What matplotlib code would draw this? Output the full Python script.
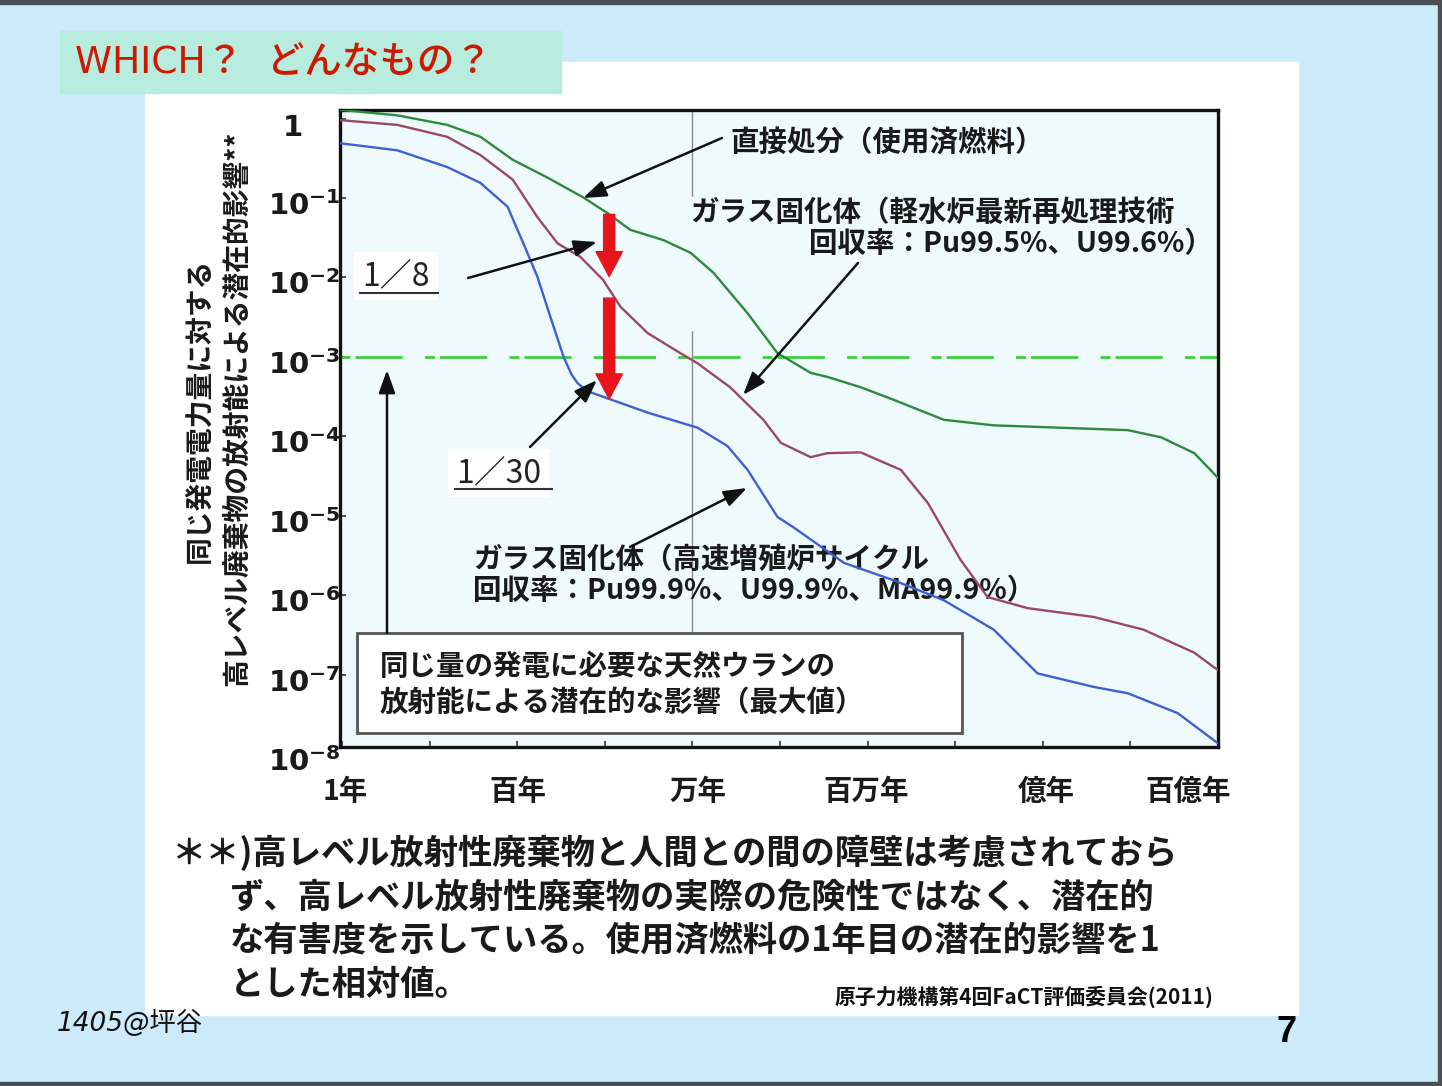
import numpy as np
import matplotlib.pyplot as plt
from matplotlib import transforms
from matplotlib.patches import Rectangle
from matplotlib.lines import Line2D

plt.rcParams['font.family'] = ['Noto Sans CJK JP', 'DejaVu Sans']

# curves: log10(years) and log10(relative potential hazard)
green_logt = [-0.03, 0.63, 1.20, 1.58, 1.95, 2.34, 2.75, 3.03, 3.29, 3.67, 3.98, 4.24, 4.63, 4.97,
              5.35, 5.54, 5.92, 6.30, 6.87, 7.44, 8.21, 8.97, 9.35, 9.73, 10.0]
green_logv = [0.11, 0.04, -0.08, -0.23, -0.52, -0.74, -0.99, -1.19, -1.40, -1.53, -1.69, -1.94, -2.45, -2.95,
              -3.20, -3.25, -3.38, -3.54, -3.79, -3.86, -3.89, -3.92, -4.01, -4.21, -4.52]

maroon_logt = [-0.03, 0.63, 1.20, 1.58, 1.95, 2.23, 2.46, 2.72, 2.98, 3.18, 3.49, 3.86, 4.06, 4.43,
               4.81, 5.01, 5.35, 5.54, 5.92, 6.38, 6.69, 7.06, 7.37, 7.83, 8.58, 9.15, 9.73, 10.0]
maroon_logv = [-0.02, -0.08, -0.23, -0.46, -0.77, -1.24, -1.57, -1.74, -2.03, -2.37, -2.70, -2.95, -3.08, -3.38,
               -3.79, -4.08, -4.26, -4.21, -4.20, -4.42, -4.84, -5.55, -6.02, -6.16, -6.27, -6.43, -6.72, -6.94]

blue_logt = [-0.03, 0.63, 1.20, 1.58, 1.89, 2.07, 2.23, 2.38, 2.53, 2.62, 2.69, 2.80, 2.98, 3.49, 4.06, 4.40,
             4.63, 4.97, 5.15, 5.73, 6.30, 6.87, 7.44, 7.94, 8.58, 8.97, 9.54, 10.0]
blue_logv = [-0.31, -0.40, -0.61, -0.81, -1.11, -1.57, -1.99, -2.50, -3.00, -3.22, -3.33, -3.43, -3.50, -3.70,
             -3.89, -4.12, -4.42, -5.01, -5.14, -5.59, -5.81, -6.06, -6.43, -6.98, -7.15, -7.23, -7.48, -7.86]

uranium_level = 1e-3     # natural uranium reference line
ratio_logt = 3.05        # where the 1/8 and 1/30 arrows sit

ytick_exp = [0, -1, -2, -3, -4, -5, -6, -7, -8]
xtick_text = ['1年', '百年', '万年', '百万年', '億年', '百億年']
xtick_px = [345, 518, 698, 866, 1046, 1188]

W, H = 1442, 1086
fig = plt.figure(figsize=(W / 100, H / 100), dpi=100)
fig.patch.set_facecolor('#cdeafb')
plot_bg = '#eefafc'

def fx(x): return x / W
def fy(y): return 1 - y / H

def box(x0, y0, x1, y1, **kw):
    fig.add_artist(Rectangle((fx(x0), fy(y1)), (x1 - x0) / W, (y1 - y0) / H,
                             transform=fig.transFigure, **kw))

# slide frame
box(0, 0, W, 4, color='#4a4f55', zorder=-4)
box(0, 1082, W, H, color='#4a4f55', zorder=-4)
box(1438, 0, W, H, color='#4a4f55', zorder=-4)
box(145, 62, 1298, 1015, color='white', zorder=-5)
box(60, 31, 561, 93, color='#b7ecdf', zorder=-3)
fig.text(fx(75), fy(64), 'WHICH？  どんなもの？', color='#cc1a00', fontsize=27, fontweight='medium',
         va='center', ha='left', family=['DejaVu Sans', 'Noto Sans CJK JP'])

# plot area
ax = fig.add_axes([fx(340), fy(747), 878 / W, 637 / H])
ax.set_facecolor(plot_bg)
ax.set_xscale('log')
ax.set_yscale('log')
ax.set_xlim(10 ** -0.023, 1e10)
ax.set_ylim(10 ** -7.906, 10 ** 0.107)
ax.set_xticks([10.0 ** k for k in range(0, 11)])
ax.set_yticks([10.0 ** k for k in range(-7, 1)])
ax.minorticks_off()
ax.tick_params(direction='in', length=4, width=1.2, color='#333', labelleft=False, labelbottom=False)
for s in ax.spines.values():
    s.set_linewidth(2.4)
    s.set_color('#111')

def atext(x, y, s, **kw):
    return ax.text(fx(x), fy(y), s, transform=fig.transFigure, **kw)

ax.axvline(1e4, ymin=0.18, color='#8a8a8a', lw=1, zorder=0.8)
ax.add_patch(Rectangle((fx(686), fy(330)), (1212 - 686) / W, (330 - 197) / H,
                       transform=fig.transFigure, color=plot_bg, zorder=1))

ln = ax.axhline(uranium_level, color='#3fcc3f', lw=2, zorder=2)
ln.set_dashes([3.6, 1.8, 17, 8])

ax.plot(10 ** np.array(green_logt), 10 ** np.array(green_logv), color='#2d8a3a', lw=1.7, zorder=3)
ax.plot(10 ** np.array(maroon_logt), 10 ** np.array(maroon_logv), color='#9b4868', lw=1.7, zorder=3)
ax.plot(10 ** np.array(blue_logt), 10 ** np.array(blue_logv), color='#3f5fd2', lw=1.7, zorder=3)

# red ratio arrows
g = np.interp(ratio_logt, green_logt, green_logv)
m = np.interp(ratio_logt, maroon_logt, maroon_logv)
b = np.interp(ratio_logt, blue_logt, blue_logv)
red = dict(arrowstyle='simple,head_length=1.8,head_width=1.9,tail_width=0.8',
           mutation_scale=10, color='#e8141c', shrinkA=0, shrinkB=0)
xr = 10 ** ratio_logt
ax.annotate('', xy=(xr, 10 ** (m + 0.16)), xytext=(xr, 10 ** g), arrowprops=red, zorder=6)
ax.annotate('', xy=(xr, 10 ** b), xytext=(xr, 10 ** (m - 0.11)), arrowprops=red, zorder=6)

# black pointer arrows
blk = dict(arrowstyle='-|>,head_length=0.7,head_width=0.25', mutation_scale=20,
           color='#111', lw=1.8, shrinkA=0, shrinkB=0)
for tail, tip in [((722, 138), (583, 198)), ((468, 278), (597, 242)), ((530, 447), (597, 380)),
                  ((858, 263), (743, 395)), ((630, 547), (747, 488)), ((387, 633), (387, 370))]:
    ax.annotate('', xy=(fx(tip[0]), fy(tip[1])), xytext=(fx(tail[0]), fy(tail[1])),
                xycoords='figure fraction', textcoords='figure fraction', arrowprops=blk, zorder=5)

bold = dict(fontweight='bold', color='#1a1a1a', fontsize=20.5)
atext(730, 143, '直接処分（使用済燃料）', va='center', ha='left', zorder=4, **bold)
atext(690, 213, 'ガラス固化体（軽水炉最新再処理技術', va='center', ha='left', zorder=4, **bold)
atext(1213, 244, '回収率：Pu99.5%、U99.6%）', va='center', ha='right', zorder=4, **bold)
atext(473, 560, 'ガラス固化体（高速増殖炉サイクル', va='center', ha='left', zorder=2.5, **bold)
atext(473, 591, '回収率：Pu99.9%、U99.9%、MA99.9%）', va='center', ha='left', zorder=2.5, **bold)

atext(362, 276, '1／8', va='center', ha='left', fontsize=23, color='#222', zorder=4,
      bbox=dict(fc='white', ec='none', pad=6))
atext(456, 473, '1／30', va='center', ha='left', fontsize=23, color='#222', zorder=4,
      bbox=dict(fc='white', ec='none', pad=6))
fig.add_artist(Line2D([fx(360), fx(438)], [fy(293), fy(293)], color='#333', lw=1.5))
fig.add_artist(Line2D([fx(455), fx(552)], [fy(489), fy(489)], color='#333', lw=1.5))

ax.add_patch(Rectangle((fx(357), fy(733)), (962 - 357) / W, (733 - 633) / H, transform=fig.transFigure,
                       fc='white', ec='#555', lw=2, zorder=4))
atext(380, 667, '同じ量の発電に必要な天然ウランの', va='center', ha='left', zorder=5, **bold)
atext(380, 703, '放射能による潜在的な影響（最大値）', va='center', ha='left', zorder=5, **bold)

# tick labels
ytrans = transforms.offset_copy(ax.get_yaxis_transform(), fig=fig, x=0, y=-9, units='dots')
for k in ytick_exp:
    lab = r'$\mathbf{1}$' if k == 0 else r'$\mathbf{10^{%d}}$' % k
    xa = (282 - 340) / 878 if k == 0 else (268 - 340) / 878
    ax.text(xa, 10.0 ** k, lab, transform=ytrans, ha='left', va='center', fontsize=21, color='#1a1a1a',
            clip_on=False)
for s, px in zip(xtick_text, xtick_px):
    fig.text(fx(px), fy(792), s, ha='center', va='center', fontsize=20.5, fontweight='bold', color='#1a1a1a')

fig.text(fx(200), fy(410), '同じ発電電力量に対する', rotation=90, ha='center', va='center',
         fontsize=20, fontweight='bold', color='#1a1a1a')
fig.text(fx(237), fy(408), '高レベル廃棄物の放射能による潜在的影響**', rotation=90, ha='center', va='center',
         fontsize=20, fontweight='bold', color='#1a1a1a')

# footnote
foot = dict(fontsize=24.7, fontweight='bold', color='#1a1a1a', va='center', ha='left')
fig.text(fx(172), fy(853), '＊＊)高レベル放射性廃棄物と人間との間の障壁は考慮されておら', **foot)
fig.text(fx(230), fy(897), 'ず、高レベル放射性廃棄物の実際の危険性ではなく、潜在的', **foot)
fig.text(fx(230), fy(940), 'な有害度を示している。使用済燃料の1年目の潜在的影響を1', **foot)
fig.text(fx(230), fy(985), 'とした相対値。', **foot)
fig.text(fx(835), fy(997), '原子力機構第4回FaCT評価委員会(2011)', fontsize=15, fontweight='bold',
         color='#111', va='center', ha='left')
fig.text(fx(57), fy(1023), '1405@坪谷', fontsize=19, style='italic', color='#111', va='center', ha='left',
         family=['DejaVu Sans', 'Noto Sans CJK JP'])
fig.text(fx(1287), fy(1032), '7', fontsize=26, fontweight='bold', color='#000', va='center', ha='center',
         family=['Liberation Sans', 'DejaVu Sans'])

fig.savefig('out.png', dpi=100, facecolor=fig.get_facecolor())
